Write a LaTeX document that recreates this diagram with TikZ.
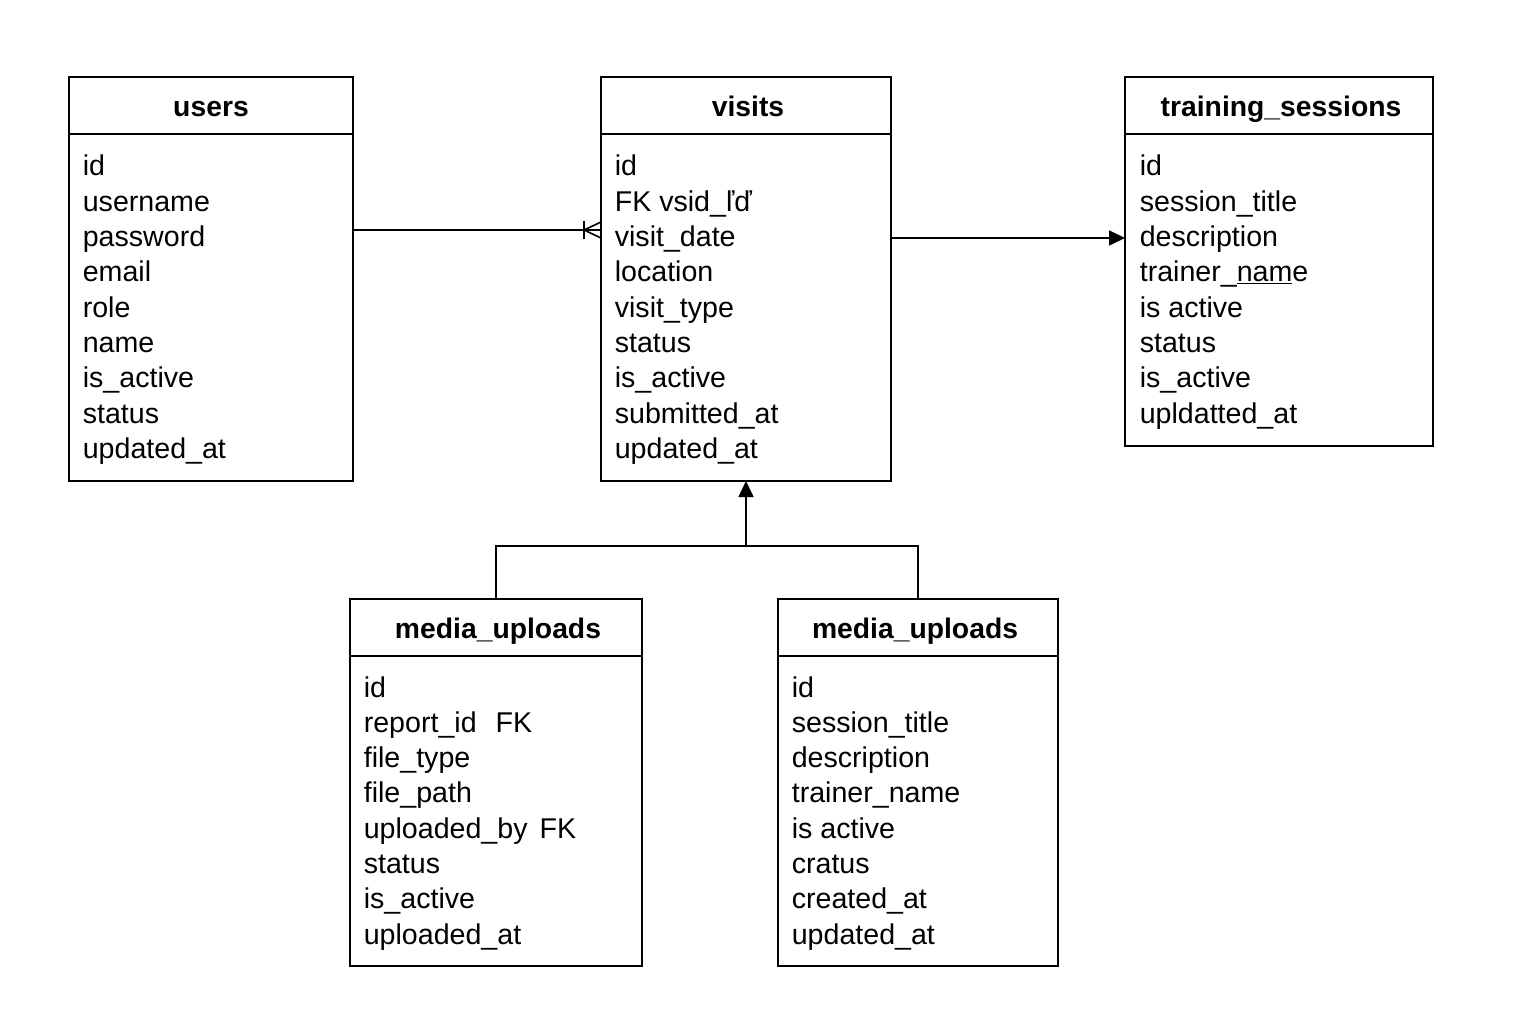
\documentclass[tikz,border=0pt]{standalone}
\usepackage{fontspec}
\setmainfont{Liberation Sans}
\usetikzlibrary{arrows.meta}
\begin{document}
\begin{tikzpicture}[x=1pt,y=-1pt,line width=1.6pt,
  tbox/.style={draw,line width=1.6pt,anchor=north west,inner sep=0pt,outer sep=0pt},
  row/.style={anchor=base west,inner sep=0pt,font=\fontsize{28.6}{28.6}\selectfont},
  ttl/.style={anchor=base,inner sep=0pt,font=\fontsize{28.3}{28.3}\selectfont\bfseries},
  arr/.style={-{Triangle[length=16pt,width=15pt]}}]
\fill[white] (0,0) rectangle (1536,1024);
\useasboundingbox (0,0) rectangle (1536,1024);

% boxes
\node[tbox,minimum width=284pt,minimum height=404pt] (users) at (69,77) {};
\node[tbox,minimum width=290pt,minimum height=404pt] (visits) at (601,77) {};
\node[tbox,minimum width=308pt,minimum height=369pt] (train) at (1125,77) {};
\node[tbox,minimum width=292pt,minimum height=367pt] (mua) at (350,599) {};
\node[tbox,minimum width=280pt,minimum height=367pt] (mub) at (778,599) {};

% header dividers
\foreach \b in {users,visits,train,mua,mub}
  \draw ([yshift=-57pt]\b.north west) -- ([yshift=-57pt]\b.north east);

% titles
\node[ttl] (users-t) at (211,117) {users};
\node[ttl] (visits-t) at (748,117) {visits};
\node[ttl] (train-t) at (1281,117) {training\_sessions};
\node[ttl] (mua-t) at (498,638) {media\_uploads};
\node[ttl] (mub-t) at (915,638) {media\_uploads};

% rows
\foreach \t [count=\i from 0] in {id,username,password,email,role,name,is\_active,status,updated\_at}
  \node[row] (users-r\i) at (82,{176+35.3*\i}) {\t};
\foreach \t [count=\i from 0] in {id,FK vsid\_ľď,visit\_date,location,visit\_type,status,is\_active,submitted\_at,updated\_at}
  \node[row] (visits-r\i) at (614,{176+35.3*\i}) {\t};
\foreach \t [count=\i from 0] in {id,session\_title,description,{trainer\_\underline{nam}e},is active,status,is\_active,upldatted\_at}
  \node[row] (train-r\i) at (1139,{176+35.3*\i}) {\t};
\foreach \t [count=\i from 0] in {id,{report\_id\hspace{19pt}FK},file\_type,file\_path,{uploaded\_by\hspace{12pt}FK},status,is\_active,uploaded\_at}
  \node[row] (mua-r\i) at (363,{697+35.3*\i}) {\t};
\foreach \t [count=\i from 0] in {id,session\_title,description,trainer\_name,is active,cratus,created\_at,updated\_at}
  \node[row] (mub-r\i) at (791,{697+35.3*\i}) {\t};

% users -> visits (one-to-many)
\coordinate (cf) at (584,230);
\draw (users.east |- cf) -- (visits.west |- cf);
\draw (584,221) -- (584,239);
\draw (cf) -- (visits.west |- 0,222);
\draw (cf) -- (visits.west |- 0,238);

% visits -> training_sessions
\draw[arr] (visits.east |- 0,238) -- (train.west |- 0,238);

% media uploads -> visits
\coordinate (j) at (visits.south |- 0,546);
\draw (mua.north) |- (j) -| (mub.north);
\draw[arr] (j) -- (visits.south);
\end{tikzpicture}
\end{document}
